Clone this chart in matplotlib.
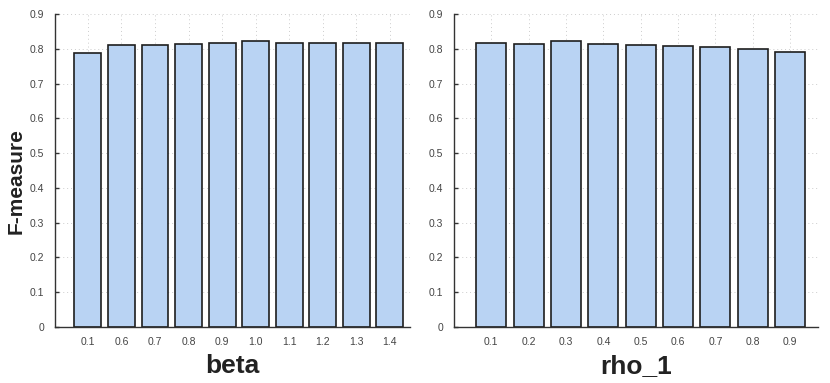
import matplotlib
matplotlib.use("Agg")
import matplotlib.pyplot as plt
import numpy as np

# values
beta_labels = ['0.1', '0.6', '0.7', '0.8', '0.9', '1.0', '1.1', '1.2', '1.3', '1.4']
beta_fmeasure = [0.788, 0.812, 0.812, 0.813, 0.816, 0.822, 0.818, 0.818, 0.817, 0.818]

rho_labels = ['0.1', '0.2', '0.3', '0.4', '0.5', '0.6', '0.7', '0.8', '0.9']
rho_fmeasure = [0.816, 0.815, 0.823, 0.814, 0.811, 0.808, 0.804, 0.798, 0.791]

yticks = [0, 0.1, 0.2, 0.3, 0.4, 0.5, 0.6, 0.7, 0.8, 0.9]
ytick_labels = ['0', '0.1', '0.2', '0.3', '0.4', '0.5', '0.6', '0.7', '0.8', '0.9']

plt.rcParams['font.family'] = ['Liberation Sans', 'DejaVu Sans']

bar_color = '#b9d3f3'
edge_color = '#1e1e1e'
axis_color = '#333333'


def draw(ax, labels, values, xlabel, xlim):
    x = np.arange(len(labels))
    ax.set_axisbelow(True)
    ax.grid(True, linestyle=(0, (1, 3)), color='#cccccc', linewidth=0.7)
    ax.bar(x, values, width=0.8, color=bar_color, edgecolor=edge_color, linewidth=1.2)
    ax.set_xlim(*xlim)
    ax.set_ylim(0, 0.9)
    ax.set_xticks(x)
    ax.set_xticklabels(labels)
    ax.set_yticks(yticks)
    ax.set_yticklabels(ytick_labels)
    ax.tick_params(axis='x', length=0, pad=7, labelsize=7.5, colors='#444444')
    ax.tick_params(axis='y', direction='in', length=3, width=1, pad=8,
                   labelsize=7.5, colors=axis_color, labelcolor='#444444')
    for side in ['top', 'right']:
        ax.spines[side].set_visible(False)
    for side in ['left', 'bottom']:
        ax.spines[side].set_color(axis_color)
        ax.spines[side].set_linewidth(1.0)
    ax.set_xlabel(xlabel, fontsize=19, fontweight='bold', color='#222222', labelpad=5)


fig = plt.figure(figsize=(8.3, 3.83), dpi=100)
ax1 = fig.add_axes([55 / 830, 56 / 383, 355 / 830, 313 / 383])
ax2 = fig.add_axes([454 / 830, 56 / 383, 364 / 830, 313 / 383])

draw(ax1, beta_labels, beta_fmeasure, 'beta', (-0.98, 9.6))
draw(ax2, rho_labels, rho_fmeasure, 'rho_1', (-1.0, 8.75))

fig.text(16 / 830, 1 - 181 / 383, 'F-measure', rotation=90, ha='center', va='center',
         fontsize=15, fontweight='bold', color='#222222')

fig.savefig('out.png', dpi=100)
plt.close(fig)
